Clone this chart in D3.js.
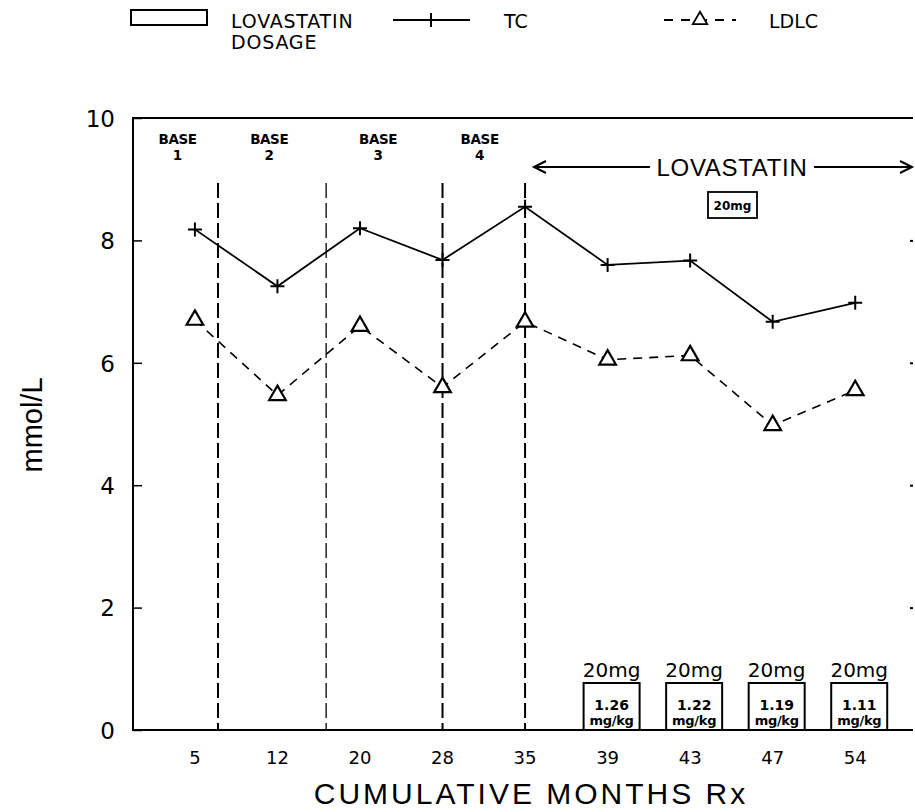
<!DOCTYPE html>
<html>
<head>
<meta charset="utf-8">
<script src="https://cdn.jsdelivr.net/npm/d3@7"></script>
<style>
body { margin: 0; background: #fff; }
text { font-family: "Liberation Sans", Arial, sans-serif; fill: #000; }
.dv { font-family: "DejaVu Sans", sans-serif; }
</style>
</head>
<body>
<script>
// values
var months = [5, 12, 20, 28, 35, 39, 43, 47, 54];
var tc = [8.18, 7.25, 8.2, 7.68, 8.55, 7.6, 7.67, 6.67, 6.98];
var ldlc = [6.7, 5.47, 6.6, 5.6, 6.67, 6.05, 6.12, 4.98, 5.55];
var yTicks = [0, 2, 4, 6, 8, 10];
var baseNames = ["1", "2", "3", "4"];
var basePos = [-0.21, 0.9, 2.22, 3.45];   // in month-index units
var dividers = [0.28, 1.59, 3, 4];
var doseMg = ["20mg", "20mg", "20mg", "20mg"];
var doseKg = ["1.26", "1.22", "1.19", "1.11"];
var doseIdx = [5, 6, 7, 8];

var W = 915, H = 812;
// careful: "top" is window.top, don't use it as a global
var pL = 133, pR = 913, pT = 118, pB = 730;

var svg = d3.select("body").append("svg")
	.attr("width", W)
	.attr("height", H);

var x = d3.scaleLinear().domain([-0.75, 8.7]).range([pL, pR]);
var y = d3.scaleLinear().domain([0, 10]).range([pB, pT]);

// frame: left, bottom, top (no right line, only little ticks)
svg.append("path")
	.attr("d", "M" + pR + "," + pT + "H" + pL + "V" + pB + "H" + pR)
	.attr("fill", "none")
	.attr("stroke", "#000")
	.attr("stroke-width", 2);

var yAxis = svg.append("g")
	.attr("transform", "translate(" + pL + ",0)")
	.call(d3.axisLeft(y).tickValues(yTicks).tickSizeInner(-9).tickSizeOuter(0).tickPadding(18));
yAxis.select(".domain").remove();
yAxis.selectAll("line").attr("stroke-width", 1.5);
yAxis.selectAll("text")
	.attr("class", "dv")
	.style("font-size", "23px")
	.attr("dy", "0.36em");

var yAxisR = svg.append("g")
	.attr("transform", "translate(" + pR + ",0)")
	.call(d3.axisRight(y).tickValues([2, 4, 6, 8]).tickSize(-3).tickFormat(""));
yAxisR.select(".domain").remove();
yAxisR.selectAll("line").attr("stroke-width", 2);

// month labels
svg.append("g").selectAll("text")
	.data(months)
	.join("text")
	.attr("class", "dv")
	.attr("x", function (d, i) { return x(i); })
	.attr("y", 764)
	.attr("text-anchor", "middle")
	.style("font-size", "18px")
	.text(function (d) { return d; });

svg.append("text")
	.attr("x", 531)
	.attr("y", 804)
	.attr("text-anchor", "middle")
	.style("font-size", "30px")
	.style("letter-spacing", "3px")
	.text("CUMULATIVE MONTHS Rx");

svg.append("text")
	.attr("transform", "translate(42,425) rotate(-90)")
	.attr("text-anchor", "middle")
	.style("font-size", "29px")
	.text("mmol/L");

// phase dividers
svg.append("g").selectAll("line")
	.data(dividers)
	.join("line")
	.attr("x1", function (d) { return x(d); })
	.attr("x2", function (d) { return x(d); })
	.attr("y1", 183)
	.attr("y2", pB)
	.attr("stroke", "#000")
	.attr("stroke-width", function (d, i) { return i == 1 ? 1.3 : 2; })
	.attr("stroke-dasharray", "15,5");

// BASE labels
var base = svg.append("g").selectAll("g")
	.data(baseNames)
	.join("g")
	.attr("transform", function (d, i) { return "translate(" + x(basePos[i]) + ",0)"; });
base.append("text")
	.attr("class", "dv")
	.attr("y", 144)
	.attr("text-anchor", "middle")
	.style("font-size", "13.5px")
	.style("font-weight", "bold")
	.style("letter-spacing", "-0.4px")
	.text("BASE");
base.append("text")
	.attr("class", "dv")
	.attr("y", 160)
	.attr("text-anchor", "middle")
	.style("font-size", "13.5px")
	.style("font-weight", "bold")
	.text(function (d) { return d; });

// LOVASTATIN arrow
var ay = 167;
svg.append("line")
	.attr("x1", 534).attr("x2", 912)
	.attr("y1", ay).attr("y2", ay)
	.attr("stroke", "#000").attr("stroke-width", 1.8);
svg.append("path")
	.attr("d", "M546," + (ay - 6) + "L534," + ay + "L546," + (ay + 6) +
		"M900," + (ay - 6) + "L912," + ay + "L900," + (ay + 6))
	.attr("fill", "none").attr("stroke", "#000").attr("stroke-width", 2);
svg.append("rect")
	.attr("x", 650).attr("y", ay - 14).attr("width", 164).attr("height", 28)
	.attr("fill", "#fff");
svg.append("text")
	.attr("x", 732).attr("y", ay + 8.5)
	.attr("text-anchor", "middle")
	.style("font-size", "24px")
	.style("letter-spacing", "0.7px")
	.text("LOVASTATIN");
svg.append("rect")
	.attr("x", 708).attr("y", 192).attr("width", 49).attr("height", 26)
	.attr("fill", "#fff").attr("stroke", "#000").attr("stroke-width", 1.8);
svg.append("text")
	.attr("class", "dv")
	.attr("x", 732.5).attr("y", 209.5)
	.attr("text-anchor", "middle")
	.style("font-size", "12px")
	.style("font-weight", "bold")
	.text("20mg");

// dosage boxes along the bottom
var dose = svg.append("g").selectAll("g")
	.data(doseIdx)
	.join("g")
	.attr("transform", function (d) { return "translate(" + (x(d) + 4) + ",0)"; });
dose.append("rect")
	.attr("x", -28).attr("y", 683).attr("width", 56).attr("height", pB - 683)
	.attr("fill", "#fff").attr("stroke", "#000").attr("stroke-width", 2);
dose.append("text")
	.attr("class", "dv")
	.attr("y", 677)
	.attr("text-anchor", "middle")
	.style("font-size", "20px")
	.text(function (d, i) { return doseMg[i]; });
dose.append("text")
	.attr("class", "dv")
	.attr("y", 710)
	.attr("text-anchor", "middle")
	.style("font-size", "14px")
	.style("font-weight", "bold")
	.text(function (d, i) { return doseKg[i]; });
dose.append("text")
	.attr("class", "dv")
	.attr("y", 725)
	.attr("text-anchor", "middle")
	.style("font-size", "13px")
	.style("font-weight", "bold")
	.style("letter-spacing", "-0.3px")
	.text("mg/kg");

// series
var line = d3.line()
	.x(function (d, i) { return x(i); })
	.y(function (d) { return y(d); });

svg.append("path")
	.datum(tc)
	.attr("d", line)
	.attr("fill", "none")
	.attr("stroke", "#000")
	.attr("stroke-width", 1.8);

svg.append("path")
	.datum(ldlc)
	.attr("d", line)
	.attr("fill", "none")
	.attr("stroke", "#000")
	.attr("stroke-width", 1.6)
	.attr("stroke-dasharray", "9,7");

var plus = "M-7,0H7M0,-7V7";
svg.append("g").selectAll("path")
	.data(tc)
	.join("path")
	.attr("transform", function (d, i) { return "translate(" + x(i) + "," + y(d) + ")"; })
	.attr("d", plus)
	.attr("stroke", "#000")
	.attr("stroke-width", 2);

var tri = d3.symbol(d3.symbolTriangle, 120);
svg.append("g").selectAll("path")
	.data(ldlc)
	.join("path")
	.attr("transform", function (d, i) { return "translate(" + x(i) + "," + y(d) + ")"; })
	.attr("d", tri)
	.attr("fill", "#fff")
	.attr("stroke", "#000")
	.attr("stroke-width", 2.2);

// legend (the crop of it was shrunk, so these are rescaled reads)
var lg = svg.append("g");
lg.append("rect")
	.attr("x", 131).attr("y", 10).attr("width", 76).attr("height", 15)
	.attr("fill", "none").attr("stroke", "#000").attr("stroke-width", 2);
lg.append("text").attr("class", "dv").attr("x", 231).attr("y", 28)
	.style("font-size", "19px").style("letter-spacing", "0.8px").text("LOVASTATIN");
lg.append("text").attr("class", "dv").attr("x", 231).attr("y", 49)
	.style("font-size", "19px").style("letter-spacing", "0.8px").text("DOSAGE");
lg.append("line")
	.attr("x1", 393).attr("x2", 470).attr("y1", 20).attr("y2", 20)
	.attr("stroke", "#000").attr("stroke-width", 2);
lg.append("path")
	.attr("transform", "translate(431,20)")
	.attr("d", plus)
	.attr("stroke", "#000").attr("stroke-width", 2);
lg.append("text").attr("class", "dv").attr("x", 504).attr("y", 28)
	.style("font-size", "19px").text("TC");
lg.append("line")
	.attr("x1", 664).attr("x2", 736).attr("y1", 20).attr("y2", 20)
	.attr("stroke", "#000").attr("stroke-width", 1.8)
	.attr("stroke-dasharray", "9,8");
lg.append("path")
	.attr("transform", "translate(700,20)")
	.attr("d", d3.symbol(d3.symbolTriangle, 90))
	.attr("fill", "#fff").attr("stroke", "#000").attr("stroke-width", 1.8);
lg.append("text").attr("class", "dv").attr("x", 769).attr("y", 28)
	.style("font-size", "19px").text("LDLC");
</script>
</body>
</html>
